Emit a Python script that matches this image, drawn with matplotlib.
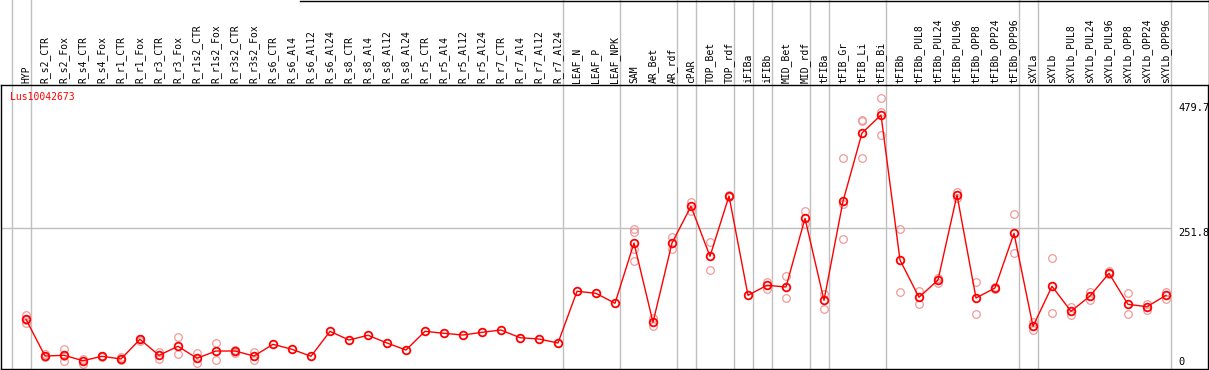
import matplotlib
matplotlib.use('Agg')
import matplotlib.pyplot as plt
from matplotlib.lines import Line2D

# sample names, in plot order
labels = ['HYP', 'R_s2_CTR', 'R_s2_Fox', 'R_s4_CTR', 'R_s4_Fox', 'R_r1_CTR', 'R_r1_Fox',
          'R_r3_CTR', 'R_r3_Fox', 'R_r1s2_CTR', 'R_r1s2_Fox', 'R_r3s2_CTR', 'R_r3s2_Fox',
          'R_s6_CTR', 'R_s6_Al4', 'R_s6_Al12', 'R_s6_Al24', 'R_s8_CTR', 'R_s8_Al4',
          'R_s8_Al12', 'R_s8_Al24', 'R_r5_CTR', 'R_r5_Al4', 'R_r5_Al12', 'R_r5_Al24',
          'R_r7_CTR', 'R_r7_Al4', 'R_r7_Al12', 'R_r7_Al24', 'LEAF_N', 'LEAF_P', 'LEAF_NPK',
          'SAM', 'AR_Bet', 'AR_rdf', 'cPAR', 'TOP_Bet', 'TOP_rdf', 'iFIBa', 'iFIBb',
          'MID_Bet', 'MID_rdf', 'tFIBa', 'tFIB_Gr', 'tFIB_Li', 'tFIB_Bi', 'tFIBb',
          'tFIBb_PUL8', 'tFIBb_PUL24', 'tFIBb_PUL96', 'tFIBb_OPP8', 'tFIBb_OPP24', 'tFIBb_OPP96',
          'sXYLa', 'sXYLb', 'sXYLb_PUL8', 'sXYLb_PUL24', 'sXYLb_PUL96',
          'sXYLb_OPP8', 'sXYLb_OPP24', 'sXYLb_OPP96']

# mean expression per sample
means = [86.4, 19.6, 20.9, 11.1, 19.1, 14.2, 50.0, 20.9, 37.3, 15.5, 28.7, 28.7, 19.6,
         40.9, 31.8, 19.1, 64.5, 48.7, 57.3, 43.3, 30.5, 64.5, 60.9, 57.8, 62.7,
         66.9, 52.9, 50.5, 43.3, 137.3, 133.6, 115.5,
         225.1, 80.9, 225.1, 291.8, 200.9, 310.5, 130.0, 148.2,
         145.1, 270.0, 120.9, 300.9, 425.1, 457.8, 194.2,
         126.4, 157.8, 312.4, 125.1, 143.3, 242.7,
         73.6, 146.4, 100.9, 128.7, 170.0, 113.6, 109.3, 130.0]

# individual replicates (empty where only the mean is shown)
replicates = [[94.7, 79.1, 86.0], [23.3, 17.8], [31.8, 11.1, 20.0], [14.7, 4.5], [19.6, 17.8],
              [17.3, 12.4], [51.1, 47.5], [26.9, 13.6], [54.2, 23.3], [25.1, 6.4],
              [43.3, 11.8], [31.1, 25.6], [26.9, 12.9],
              [], [], [], [], [], [], [], [], [], [], [], [], [], [], [], [], [], [], [],
              [250.5, 245.0, 192.4, 214.0], [88.2, 74.7], [235.5, 214.2], [300.2, 283.8],
              [226.4, 176.0], [312.4, 308.7], [], [154.7, 141.5],
              [165.1, 124.5], [283.3, 259.1], [131.8, 104.5], [379.6, 295.5, 232.4],
              [446.9, 379.6, 449.0], [488.2, 462.7, 420.9], [250.0, 135.5],
              [138.4, 113.6], [160.9, 151.8], [318.4, 307.5], [154.2, 96.0],
              [145.6, 141.5], [277.3, 206.4],
              [80.9, 66.9], [197.8, 97.3], [108.7, 93.6], [135.5, 121.5], [174.7, 168.2],
              [133.6, 95.5], [114.7, 103.3], [136.0, 123.8]]

# first sample of each tissue group (separator lines)
group_starts = [0, 1, 29, 32, 35, 36, 38, 39, 40, 42, 43, 46, 53, 54, 61]
scale_ticks = [479.7, 251.8, 0]
gene = 'Lus10042673'

W, H = 1209, 370
fig = plt.figure(figsize=(W / 100, H / 100), dpi=100)
ax = fig.add_axes([1 / W, 1 / H, 1207 / W, 284 / H])

x = list(range(len(labels)))
ax.set_xlim((1 - 26) / 19.0, (1208 - 26) / 19.0)
ax.set_ylim(-4, 512.4)

sep = 0.763
for g in group_starts:
    ax.axvline(g - sep, ymin=0, ymax=369 / 284, color='#c0c0c0', lw=1, clip_on=False, zorder=1)
ax.hlines(scale_ticks[1], ax.get_xlim()[0], 61 - sep, color='#c0c0c0', lw=1, zorder=1)

rx, ry = [], []
for i, reps in enumerate(replicates):
    rx += [i] * len(reps)
    ry += reps
ax.plot(rx, ry, 'o', ms=5.5, mfc='none', mec='#f09a9a', mew=0.9, zorder=2)
ax.plot(x, means, '-', color='red', lw=1, zorder=3)
ax.plot(x, means, 'o', ms=5.5, mfc='none', mec='red', mew=1.3, zorder=4)

for i, lab in enumerate(labels):
    ax.annotate(lab, xy=(i, 1), xycoords=('data', 'axes fraction'), xytext=(0, 2),
                textcoords='offset pixels', rotation=90, ha='center', va='bottom',
                family='DejaVu Sans Mono', fontsize=7, annotation_clip=False)

for v in scale_ticks:
    ax.annotate('%g' % v if v == 0 else '%.1f' % v, xy=(1, v), xycoords=('axes fraction', 'data'),
                xytext=(-30, 0), textcoords='offset pixels',
                va='bottom' if v == 0 else 'top', ha='left',
                family='DejaVu Sans Mono', fontsize=7.5)

ax.text(9 / 1207, 1 - 12 / 284, gene, transform=ax.transAxes, color='red',
        family='DejaVu Sans Mono', fontsize=7, va='center', ha='left')

ax.set_xticks([])
ax.set_yticks([])
for s in ax.spines.values():
    s.set_linewidth(1)

# outer border of the label strip
fig.add_artist(Line2D([300 / W, 1], [1 - 0.5 / H, 1 - 0.5 / H], color='black', lw=1))
fig.add_artist(Line2D([1 - 0.5 / W, 1 - 0.5 / W], [0, 1], color='black', lw=1))

fig.savefig('out.png', dpi=100)
